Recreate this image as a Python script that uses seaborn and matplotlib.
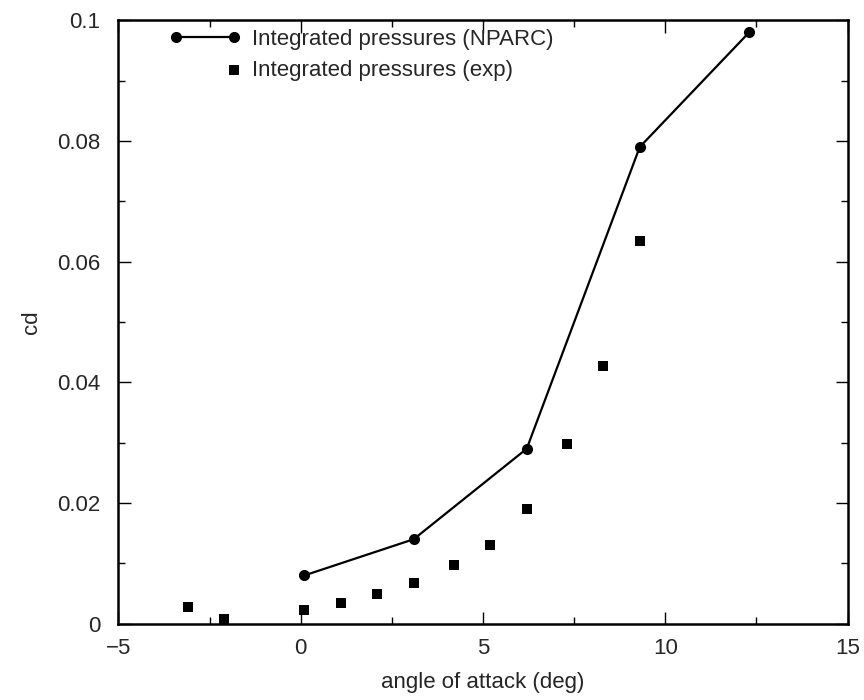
import matplotlib
matplotlib.use('Agg')
import matplotlib.pyplot as plt
import seaborn as sns
import pandas as pd
from matplotlib.legend_handler import HandlerPathCollection

# NPARC integrated pressures
nparc_alpha = [0.1, 3.1, 6.2, 9.3, 12.3]
nparc_cd = [0.008, 0.014, 0.029, 0.079, 0.098]

# experimental integrated pressures
exp_alpha = [-3.1, -2.1, 0.1, 1.1, 2.1, 3.1, 4.2, 5.2, 6.2, 7.3, 8.3, 9.3]
exp_cd = [0.0027, 0.0008, 0.0022, 0.0035, 0.005, 0.0067, 0.0097, 0.013, 0.019, 0.0297, 0.0427, 0.0635]

x_ticks = [-5, 0, 5, 10, 15]
x_ticklabels = ['\u22125', '0', '5', '10', '15']
y_ticks = [0, 0.02, 0.04, 0.06, 0.08, 0.1]
y_ticklabels = ['0', '0.02', '0.04', '0.06', '0.08', '0.1']

df_nparc = pd.DataFrame({'alpha': nparc_alpha, 'cd': nparc_cd})
df_exp = pd.DataFrame({'alpha': exp_alpha, 'cd': exp_cd})


# legend marker of the exp series sits at the right end of the handle
class RightMarker(HandlerPathCollection):
    def get_xdata(self, legend, xdescent, ydescent, width, height, fontsize):
        x = -xdescent + width - self._marker_pad * fontsize
        return [x], [x]


sns.set_style('ticks')
plt.rcParams['font.family'] = ['Liberation Sans', 'DejaVu Sans']

fig = plt.figure(figsize=(8.64, 7.0), dpi=100)
ax = fig.add_axes([0.137, 0.109, 0.844, 0.862])

sns.lineplot(data=df_nparc, x='alpha', y='cd', ax=ax, color='black', lw=1.6,
             marker='o', markersize=8, markeredgewidth=0, label='Integrated pressures (NPARC)')
sns.scatterplot(data=df_exp, x='alpha', y='cd', ax=ax, color='black', marker='s',
                s=55, linewidth=0, label='Integrated pressures (exp)')

ax.set_xlim(-5, 15)
ax.set_ylim(0, 0.1)
ax.set_xticks(x_ticks)
ax.set_xticklabels(x_ticklabels)
ax.set_xticks([-2.5, 2.5, 7.5, 12.5], minor=True)
ax.set_yticks(y_ticks)
ax.set_yticklabels(y_ticklabels)
ax.set_yticks([0.01, 0.03, 0.05, 0.07, 0.09], minor=True)
ax.tick_params(which='both', direction='in', top=True, right=True, labelsize=16, color='black')
ax.tick_params(axis='x', pad=10)
ax.tick_params(axis='y', pad=13)
ax.tick_params(which='major', length=9, width=1)
ax.tick_params(which='minor', length=5, width=1)
for sp in ax.spines.values():
    sp.set_linewidth(1.8)
    sp.set_color('black')

ax.set_xlabel('angle of attack (deg)', fontsize=16, labelpad=10)
ax.set_ylabel('cd', fontsize=16, labelpad=11)

handles, labels = ax.get_legend_handles_labels()
leg = ax.legend(handles, labels, loc='upper left', bbox_to_anchor=(0.058, 1.0), frameon=False,
                fontsize=16, numpoints=2, handlelength=3.2, handletextpad=0.5, labelspacing=0.45,
                borderaxespad=0, handler_map={handles[1]: RightMarker()})

fig.savefig('out.png', dpi=100)
